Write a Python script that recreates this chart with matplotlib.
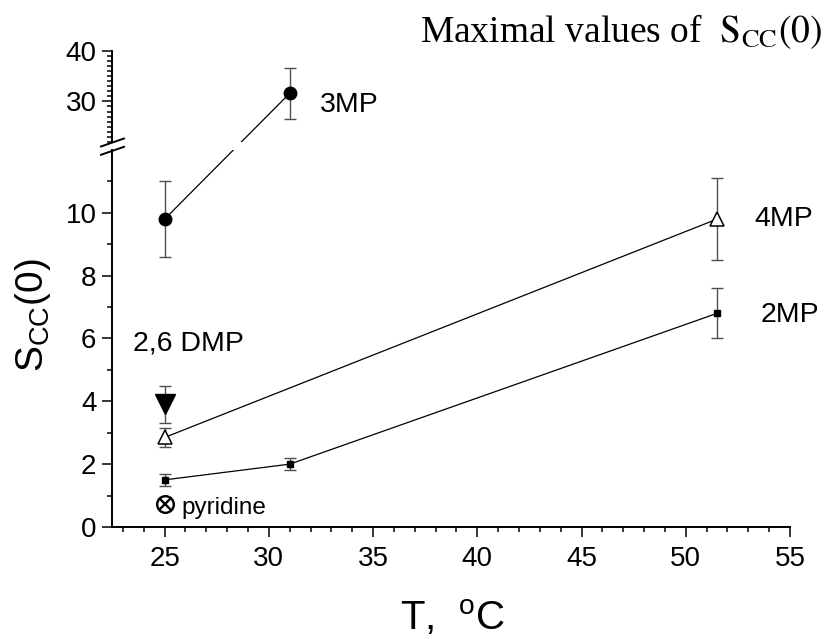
import matplotlib.pyplot as plt
from matplotlib.lines import Line2D
from matplotlib.ticker import MultipleLocator, FixedLocator

plt.rcParams["font.family"] = "Liberation Sans"
plt.rcParams["mathtext.fontset"] = "custom"
plt.rcParams["mathtext.rm"] = "Liberation Sans"
plt.rcParams["mathtext.it"] = "Liberation Sans:italic"

# data
x_3mp = [25, 31]
y_3mp = [9.8, 31.6]
e_3mp = [1.2, 5.0]

x_4mp = [25, 51.5]
y_4mp = [2.85, 9.8]
e_4mp = [0.3, 1.3]

x_2mp = [25, 31, 51.5]
y_2mp = [1.5, 2.0, 6.8]
e_2mp = [0.19, 0.19, 0.8]

x_dmp = [25]
y_dmp = [3.9]
e_dmp = [0.6]

x_pyr = [25]
y_pyr = [0.72]

lo_major = [0, 2, 4, 6, 8, 10]

ecol = "#505050"
lw = 0.9

fig = plt.figure(figsize=(8.25, 6.39), dpi=100)
ax = fig.add_axes([0.1354, 0.1753, 0.8222, 0.590])     # lower part 0..12
axu = fig.add_axes([0.1354, 0.7778, 0.8222, 0.1429])   # upper part 22..40

ax.set_xlim(22.46, 55)
ax.set_ylim(0, 12)
axu.set_xlim(22.46, 55)
axu.set_ylim(22, 40)

for a in (ax, axu):
    a.spines["top"].set_visible(False)
    a.spines["right"].set_visible(False)
    a.spines["left"].set_linewidth(1.4)
    a.tick_params(which="major", direction="out", length=7, width=1.1, labelsize=20, pad=4)
    a.tick_params(which="minor", direction="out", length=3.5, width=1.1)
    a.patch.set_visible(False)
ax.spines["bottom"].set_linewidth(1.4)
axu.spines["bottom"].set_visible(False)
axu.tick_params(axis="x", which="both", bottom=False, labelbottom=False)
ax.tick_params(axis="x", which="major", pad=7)

ax.xaxis.set_major_locator(MultipleLocator(5))
ax.xaxis.set_minor_locator(MultipleLocator(1))
ax.yaxis.set_major_locator(FixedLocator(lo_major))
ax.yaxis.set_minor_locator(FixedLocator([1, 3, 5, 7, 9, 11]))
axu.yaxis.set_major_locator(MultipleLocator(10))
axu.yaxis.set_minor_locator(MultipleLocator(1))

# error bars
eb = dict(fmt="none", ecolor=ecol, elinewidth=1, capsize=4.5, capthick=1)
ax.errorbar(x_3mp[:1], y_3mp[:1], yerr=e_3mp[:1], **eb)
axu.errorbar(x_3mp[1:], y_3mp[1:], yerr=e_3mp[1:], **eb)
ax.errorbar(x_4mp, y_4mp, yerr=e_4mp, **eb)
ax.errorbar(x_2mp, y_2mp, yerr=e_2mp, **eb)
ax.errorbar(x_dmp, y_dmp, yerr=e_dmp, **eb)

# 3MP line goes across the break: draw it in both axes, each clipped
hi_disp = axu.transData.transform((x_3mp[1], y_3mp[1]))
lo_disp = ax.transData.transform((x_3mp[0], y_3mp[0]))
hi_in_lo = ax.transData.inverted().transform(hi_disp)
lo_in_hi = axu.transData.inverted().transform(lo_disp)
ax.plot([x_3mp[0], hi_in_lo[0]], [y_3mp[0], hi_in_lo[1]], color="k", lw=lw)
axu.plot([lo_in_hi[0], x_3mp[1]], [lo_in_hi[1], y_3mp[1]], color="k", lw=lw)
ax.plot(x_3mp[:1], y_3mp[:1], "o", color="k", ms=9, zorder=5)
axu.plot(x_3mp[1:], y_3mp[1:], "o", color="k", ms=9, zorder=5)

ax.plot(x_4mp, y_4mp, "-", color="k", lw=lw)
ax.plot(x_4mp, y_4mp, "^", ms=10, mfc="white", mec="k", mew=1.1, zorder=5)
ax.plot(x_2mp, y_2mp, "-s", color="k", lw=lw, ms=5, zorder=5)
ax.plot(x_dmp, y_dmp, "v", color="k", ms=14, zorder=5)
ax.plot(x_pyr, y_pyr, "o", ms=12, mfc="white", mec="k", mew=1.7, zorder=5)
ax.plot(x_pyr, y_pyr, "x", ms=8, color="k", mew=1.7, zorder=6)

# labels
axu.text(32.45, 29.2, "3MP", fontsize=20.5, ha="left", va="center")
ax.text(53.3, 9.8, "4MP", fontsize=20.5, ha="left", va="center", clip_on=False)
ax.text(53.6, 6.75, "2MP", fontsize=20.5, ha="left", va="center", clip_on=False)
ax.text(23.5, 5.83, "2,6 DMP", fontsize=20.5, ha="left", va="center")
ax.text(25.8, 0.62, "pyridine", fontsize=17.5, ha="left", va="center")

# break marks on the y axis
for yc in (142.5, 150.8):
    y0 = 1 - (yc + 4) / 639
    y1 = 1 - (yc - 4) / 639
    fig.add_artist(Line2D([101 / 825, 124 / 825], [y0, y1], color="k", lw=1.4,
                          transform=fig.transFigure))

fig.text(33 / 825, 1 - 315 / 639, r"$\mathrm{S_{CC}(0)}$", fontsize=28, rotation=90,
         ha="center", va="center")
fig.text(452 / 825, 1 - 618 / 639, r"T,  $^{\mathrm{o}}$C", fontsize=29, ha="center", va="center")
fig.text(822 / 825, 1 - 42 / 639, r"Maximal values of  $\mathrm{S_{CC}(0)}$", fontsize=27,
         family="Liberation Serif", math_fontfamily="stix", ha="right", va="baseline")

fig.savefig("out.png", dpi=100)
